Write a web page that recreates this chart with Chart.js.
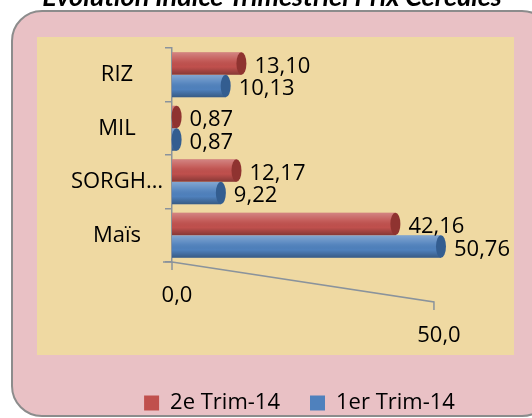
<!DOCTYPE html>
<html>
<head>
<meta charset="utf-8">
<script src="https://cdn.jsdelivr.net/npm/chart.js@4.4.0/dist/chart.umd.min.js"></script>
<style>
  html, body { margin: 0; padding: 0; background: #fff; }
  #wrap { position: relative; width: 532px; height: 418px; overflow: hidden; }
  #chart { position: absolute; left: 0; top: 0; }
  #title { position: absolute; left: 0; width: 544px; top: -18px; text-align: center;
           font: italic bold 27px Lato; line-height: 27px; color: #000; white-space: nowrap; }
</style>
</head>
<body>
<div id="wrap">
  <canvas id="chart" width="532" height="418"></canvas>
  <div id="title">Évolution Indice Trimestriel Prix Céréales</div>
</div>
<script>
// data
const categories = ['RIZ', 'MIL', 'SORGH…', 'Maïs'];
const seriesNames = ['2e Trim-14', '1er Trim-14'];
const trim2 = [13.10, 0.87, 12.17, 42.16];
const trim1 = [10.13, 0.87, 9.22, 50.76];
const xTicks = [0, 50];

const RED = '#c0504d', RED_DARK = '#8f3330';
const BLUE = '#4f81bd', BLUE_DARK = '#335d90';
const GRAY = '#8a939c';
const FONT = { family: 'Open Sans', size: 22 };

function comma(v, d) { return v.toFixed(d).replace('.', ','); }

// pink frame + parchment plot area
const framePlugin = {
  id: 'frame',
  beforeDraw(chart) {
    const ctx = chart.ctx;
    ctx.save();
    ctx.fillStyle = '#fff';
    ctx.fillRect(0, 0, chart.width, chart.height);
    ctx.beginPath();
    ctx.roundRect(12, 11, 540, 405, 30);
    ctx.fillStyle = '#e9c1c5';
    ctx.fill();
    ctx.lineWidth = 2;
    ctx.strokeStyle = '#8c8c8c';
    ctx.stroke();
    ctx.fillStyle = '#efd9a2';
    ctx.fillRect(37, 37, 477, 318);
    ctx.restore();
  },
  // legend sits a bit right of the middle in the original
  afterLayout(chart) {
    chart.legend.left += 31;
    chart.legend.right += 31;
  }
};

// cylinder shading, end caps, value labels, floor and x labels
const cylinderPlugin = {
  id: 'cylinder',
  afterDatasetsDraw(chart) {
    const ctx = chart.ctx;
    const caps = [RED_DARK, BLUE_DARK];
    ctx.save();
    ctx.font = FONT.size + 'px "' + FONT.family + '"';
    chart.data.datasets.forEach((ds, di) => {
      chart.getDatasetMeta(di).data.forEach((bar, i) => {
        const h = bar.height, top = bar.y - h / 2;
        const g = ctx.createLinearGradient(0, top, 0, top + h);
        g.addColorStop(0, 'rgba(255,255,255,0.30)');
        g.addColorStop(0.35, 'rgba(255,255,255,0.08)');
        g.addColorStop(0.65, 'rgba(0,0,0,0)');
        g.addColorStop(1, 'rgba(0,0,0,0.30)');
        ctx.fillStyle = g;
        ctx.fillRect(bar.base, top, bar.x - bar.base, h);
        ctx.beginPath();
        ctx.ellipse(bar.x, bar.y, 5, h / 2, 0, 0, Math.PI * 2);
        ctx.fillStyle = caps[di];
        ctx.fill();
        ctx.fillStyle = '#000';
        ctx.textAlign = 'left';
        ctx.textBaseline = 'middle';
        ctx.fillText(comma(ds.data[i], 2), bar.x + 13, bar.y + 3);
      });
    });

    // slanted floor like the 3D original, labels follow it
    const xs = chart.scales.x, area = chart.chartArea;
    const floorY = v => area.bottom + 40 * v / 50;
    const floorX = v => xs.getPixelForValue(v) - 3 * v / 50;
    ctx.strokeStyle = GRAY;
    ctx.lineWidth = 1.5;
    ctx.beginPath();
    ctx.moveTo(floorX(0) - 9, floorY(0));
    ctx.lineTo(floorX(0), floorY(0));
    ctx.lineTo(floorX(50), floorY(50));
    ctx.lineTo(floorX(50), floorY(50) + 8);
    ctx.moveTo(floorX(0), floorY(0));
    ctx.lineTo(floorX(0), floorY(0) + 8);
    ctx.stroke();

    ctx.fillStyle = '#000';
    ctx.textAlign = 'center';
    xTicks.forEach(v => {
      ctx.fillText(comma(v, 1), floorX(v) + 5, floorY(v) + 34);
    });
    ctx.restore();
  }
};

new Chart(document.getElementById('chart'), {
  type: 'bar',
  data: {
    labels: categories,
    datasets: [
      { label: seriesNames[0], data: trim2, backgroundColor: RED },
      { label: seriesNames[1], data: trim1, backgroundColor: BLUE }
    ]
  },
  options: {
    indexAxis: 'y',
    responsive: false,
    animation: false,
    devicePixelRatio: 1,
    categoryPercentage: 0.84,
    barPercentage: 1,
    layout: { padding: { left: 37, right: 32, top: 48, bottom: -6 } },
    scales: {
      y: {
        grid: { drawOnChartArea: false, offset: true, tickLength: 7, color: GRAY, lineWidth: 1.5 },
        border: { color: GRAY, width: 1.5 },
        ticks: { font: FONT, color: '#000', padding: 2, crossAlign: 'center' },
        afterFit(s) { s.width = 135; }
      },
      x: {
        min: 0,
        max: 61.9,
        grid: { display: false },
        border: { display: false },
        ticks: { display: false },
        afterFit(s) { s.height = 100; }
      }
    },
    plugins: {
      legend: {
        position: 'bottom',
        labels: { font: FONT, color: '#000', boxWidth: 15, boxHeight: 15, padding: 30 }
      },
      tooltip: { enabled: false }
    }
  },
  plugins: [framePlugin, cylinderPlugin]
});
</script>
</body>
</html>
